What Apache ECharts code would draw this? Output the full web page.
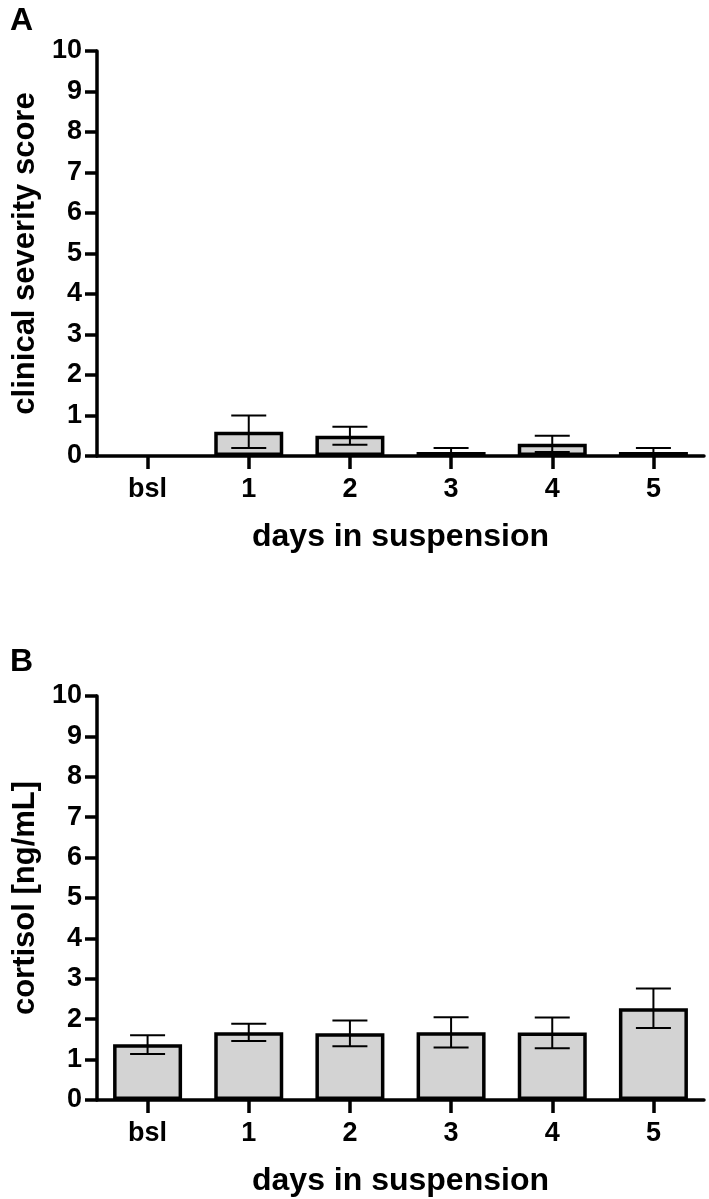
<!DOCTYPE html>
<html>
<head>
<meta charset="utf-8">
<script src="https://cdn.jsdelivr.net/npm/echarts@6/dist/echarts.min.js"></script>
<style>
html,body{margin:0;padding:0;background:#fff;}
#chart{width:709px;height:1199px;}
</style>
</head>
<body>
<div id="chart"></div>
<script>
// ---- data ----
const categories = ['bsl', '1', '2', '3', '4', '5'];
const scoreMean = [0, 0.6, 0.5, 0.1, 0.3, 0.1];
const scoreLow  = [0, 0.2, 0.28, 0, 0.1, 0];
const scoreHigh = [0, 1.0, 0.72, 0.2, 0.5, 0.2];
const cortisolMean = [1.38, 1.68, 1.65, 1.68, 1.67, 2.27];
const cortisolLow  = [1.14, 1.46, 1.33, 1.30, 1.28, 1.78];
const cortisolHigh = [1.60, 1.89, 1.97, 2.05, 2.04, 2.76];
const panelLabels = ['A', 'B'];
const xTitle = 'days in suspension';
const yTitles = ['clinical severity score', 'cortisol [ng/mL]'];

const FONT = "'Liberation Sans', Arial, sans-serif";

function errData(lo, hi) {
  return categories.map((c, i) => [i, lo[i], hi[i]]);
}

function renderErr(params, api) {
  const i = api.value(0);
  const lo = api.value(1), hi = api.value(2);
  if (lo === hi) return null;
  const p1 = api.coord([i, lo]);
  const p2 = api.coord([i, hi]);
  const h = 17.5;
  const style = { stroke: '#000', lineWidth: 2 };
  return {
    type: 'group',
    children: [
      { type: 'line', shape: { x1: p1[0], y1: p1[1], x2: p2[0], y2: p2[1] }, style },
      { type: 'line', shape: { x1: p1[0] - h, y1: p1[1], x2: p1[0] + h, y2: p1[1] }, style },
      { type: 'line', shape: { x1: p2[0] - h, y1: p2[1], x2: p2[0] + h, y2: p2[1] }, style }
    ]
  };
}

function xAxisCfg(gi) {
  return {
    type: 'category', gridIndex: gi, data: categories,
    name: xTitle, nameLocation: 'middle', nameGap: 65,
    nameTextStyle: { fontSize: 32, fontWeight: 'bold', color: '#000', fontFamily: FONT },
    axisLine: { show: true, lineStyle: { color: '#000', width: 3.5 } },
    axisTick: { show: true, alignWithLabel: true, length: 13, lineStyle: { color: '#000', width: 3.5 } },
    axisLabel: { margin: 20, fontSize: 27, fontWeight: 'bold', color: '#000', fontFamily: FONT },
    splitLine: { show: false }
  };
}
function yAxisCfg(gi) {
  return {
    type: 'value', gridIndex: gi, min: 0, max: 10, interval: 1,
    name: yTitles[gi], nameLocation: 'middle', nameGap: 50,
    nameTextStyle: { fontSize: 31, fontWeight: 'bold', color: '#000', fontFamily: FONT },
    axisLine: { show: true, lineStyle: { color: '#000', width: 3.5 } },
    axisTick: { show: true, length: 12, lineStyle: { color: '#000', width: 3.5 } },
    axisLabel: { margin: 15, fontSize: 27, fontWeight: 'bold', color: '#000', fontFamily: FONT },
    splitLine: { show: false }
  };
}
function barSeries(gi, values) {
  return {
    type: 'bar', xAxisIndex: gi, yAxisIndex: gi, barWidth: 69,
    data: values.map(v => v === 0 ? { value: v, itemStyle: { borderWidth: 0 } } : v),
    itemStyle: { color: '#d3d3d3', borderColor: '#000', borderWidth: 3.5 },
    silent: true, z: 2
  };
}
function errSeries(gi, lo, hi) {
  return {
    type: 'custom', xAxisIndex: gi, yAxisIndex: gi, data: errData(lo, hi),
    renderItem: renderErr, encode: { x: 0, y: [1, 2] }, z: 5, silent: true
  };
}

const chart = echarts.init(document.getElementById('chart'), null, { renderer: 'canvas' });
chart.setOption({
  animation: false,
  backgroundColor: '#fff',
  title: [
    { text: panelLabels[0], left: 5, top: 0, textStyle: { fontSize: 32, fontWeight: 'bold', color: '#000', fontFamily: FONT } },
    { text: panelLabels[1], left: 5, top: 641, textStyle: { fontSize: 32, fontWeight: 'bold', color: '#000', fontFamily: FONT } }
  ],
  grid: [
    { left: 97, right: 5, top: 51, height: 405 },
    { left: 97, right: 5, top: 696, height: 404 }
  ],
  xAxis: [xAxisCfg(0), xAxisCfg(1)],
  yAxis: [yAxisCfg(0), yAxisCfg(1)],
  series: [
    barSeries(0, scoreMean),
    errSeries(0, scoreLow, scoreHigh),
    barSeries(1, cortisolMean),
    errSeries(1, cortisolLow, cortisolHigh)
  ]
});
</script>
</body>
</html>
